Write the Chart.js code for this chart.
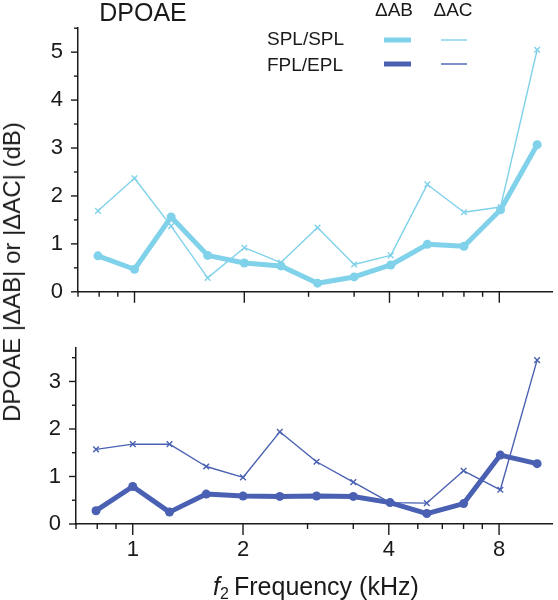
<!DOCTYPE html>
<html>
<head>
<meta charset="utf-8">
<script src="https://cdn.jsdelivr.net/npm/chart.js@4.4.0/dist/chart.umd.min.js"></script>
<style>
  html, body { margin: 0; padding: 0; background: #fff; }
  #wrap { position: relative; width: 558px; height: 600px; font-family: "Liberation Sans", Arial, sans-serif; }
  #topBox { position: absolute; left: 0; top: 0; width: 558px; height: 320px; }
  #botBox { position: absolute; left: 0; top: 320px; width: 558px; height: 280px; }
  #yTitle {
    position: absolute; left: 12px; top: 272px; white-space: nowrap;
    transform: translate(-50%, -50%) rotate(-90deg);
    font-size: 24px; color: #1a1a1a;
  }
</style>
</head>
<body>
<div id="wrap">
  <div id="topBox"><canvas id="topChart" width="558" height="320"></canvas></div>
  <div id="botBox"><canvas id="botChart" width="558" height="280"></canvas></div>
  <div id="yTitle">DPOAE |ΔAB| or |ΔAC| (dB)</div>
</div>
<script>
// f2 frequencies (kHz), 1/3-octave steps
const freqs = [0.794, 1, 1.26, 1.587, 2, 2.52, 3.175, 4, 5.04, 6.35, 8, 10.08, 12.7];

// top panel: SPL/SPL
const splAB = [0.75, 0.47, 1.56, 0.76, 0.60, 0.54, 0.18, 0.31, 0.56, 0.99, 0.95, 1.71, 3.07];
const splAC = [1.69, 2.37, 1.37, 0.29, 0.92, 0.61, 1.34, 0.57, 0.76, 2.24, 1.66, 1.77, 5.05];

// bottom panel: FPL/EPL
const fplAB = [0.28, 0.79, 0.25, 0.63, 0.59, 0.58, 0.59, 0.58, 0.45, 0.22, 0.43, 1.45, 1.27];
const fplAC = [1.57, 1.68, 1.68, 1.21, 0.98, 1.94, 1.31, 0.88, 0.45, 0.44, 1.12, 0.72, 3.45];

// x axis ticks as printed on the figure
const xTickValues = [1, 2, 5, 10];
const xTickLabels = ['1', '2', '4', '8'];
const xMinorTicks = [0.7, 0.8, 0.9, 3, 4, 6, 7, 8, 9];

const lightBlue = '#80d1ea';
const darkBlue = '#4a61b3';
const axisColor = '#1a1a1a';
const FONT = '"Liberation Sans", Arial, sans-serif';

function pts(arr) {
  return freqs.map((f, i) => ({ x: f, y: arr[i] }));
}

function thick(label, arr, color) {
  return {
    label, data: pts(arr), borderColor: color, backgroundColor: color,
    borderWidth: 5, pointRadius: 4.5, pointBorderWidth: 0, pointStyle: 'circle', tension: 0
  };
}
function thin(label, arr, color) {
  return {
    label, data: pts(arr), borderColor: color, backgroundColor: color,
    borderWidth: 1.4, pointRadius: 4, pointBorderWidth: 1.4, pointStyle: 'crossRot', tension: 0
  };
}

// hand-drawn tick marks (major + minor) placed through the scales
const tickMarks = {
  id: 'tickMarks',
  afterDraw(chart, args, opts) {
    const ctx = chart.ctx;
    const xs = chart.scales.x, ys = chart.scales.y;
    ctx.save();
    ctx.strokeStyle = axisColor;
    ctx.lineWidth = 1.4;
    const line = (x1, y1, x2, y2) => { ctx.beginPath(); ctx.moveTo(x1, y1); ctx.lineTo(x2, y2); ctx.stroke(); };
    const bot = chart.chartArea.bottom, left = chart.chartArea.left;
    xTickValues.forEach(v => { const p = xs.getPixelForValue(v); line(p, bot, p, bot + 11); });
    xMinorTicks.forEach(v => { const p = xs.getPixelForValue(v); line(p, bot, p, bot + 5); });
    for (let v = 0; v <= opts.yMax + 0.01; v += 0.5) {
      const p = ys.getPixelForValue(v);
      const len = Number.isInteger(v) ? 7 : 4;
      line(left - len, p, left, p);
    }
    ctx.restore();
  }
};

// text decorations drawn on the canvases
const decorations = {
  id: 'decorations',
  afterDraw(chart, args, opts) {
    const ctx = chart.ctx;
    ctx.save();
    ctx.fillStyle = axisColor;
    if (opts.panel === 'top') {
      ctx.font = '25px ' + FONT;
      ctx.textAlign = 'center';
      ctx.textBaseline = 'middle';
      ctx.fillText('DPOAE', 143, 14);
      ctx.font = '19px ' + FONT;
      ctx.fillText('ΔAB', 394, 11);
      ctx.fillText('ΔAC', 453, 11);
      ctx.textAlign = 'left';
      ctx.fillText('SPL/SPL', 267, 40);
      ctx.fillText('FPL/EPL', 267, 66);
      const seg = (y, w, c) => {
        ctx.strokeStyle = c; ctx.lineWidth = w;
        ctx.beginPath(); ctx.moveTo(w > 2 ? 384 : 441, y); ctx.lineTo(w > 2 ? 411 : 467, y); ctx.stroke();
      };
      seg(40, 5, lightBlue);
      seg(40, 1.4, lightBlue);
      seg(64, 5, darkBlue);
      seg(64, 1.4, darkBlue);
    } else {
      ctx.textBaseline = 'alphabetic';
      ctx.textAlign = 'left';
      ctx.font = 'italic 25px ' + FONT;
      ctx.fillText('f', 213, 275);
      ctx.font = '16px ' + FONT;
      ctx.fillText('2', 220, 279);
      ctx.font = '25px ' + FONT;
      ctx.fillText('Frequency (kHz)', 234, 275);
    }
    ctx.restore();
  }
};

function makeChart(id, panel, datasets, yMax, yWidth, xHeight, padTop) {
  return new Chart(document.getElementById(id), {
    type: 'line',
    data: { datasets },
    plugins: [tickMarks, decorations],
    options: {
      responsive: false,
      animation: false,
      layout: { padding: { left: 0, right: 2, top: padTop, bottom: 0 } },
      plugins: {
        legend: { display: false },
        tooltip: { enabled: false },
        tickMarks: { yMax: Math.floor(yMax) + 0.5 > yMax ? Math.floor(yMax) : Math.floor(yMax) + 0.5 },
        decorations: { panel }
      },
      elements: { line: { borderJoinStyle: 'round', borderCapStyle: 'round' } },
      scales: {
        x: {
          type: 'logarithmic',
          min: 0.7, max: 14,
          border: { display: true, color: axisColor, width: 1.5 },
          grid: { display: false, drawTicks: false },
          afterBuildTicks: s => { s.ticks = xTickValues.map(v => ({ value: v })); },
          afterFit: s => { s.height = xHeight; },
          ticks: {
            display: panel === 'bottom',
            autoSkip: false, maxRotation: 0, padding: 13,
            color: axisColor, font: { size: 22, family: FONT },
            callback: (v, i) => xTickLabels[i]
          }
        },
        y: {
          min: 0, max: yMax,
          border: { display: true, color: axisColor, width: 1.5 },
          grid: { display: false, drawTicks: false },
          afterBuildTicks: s => {
            const t = [];
            for (let v = 0; v <= yMax; v++) t.push({ value: v });
            s.ticks = t;
          },
          afterFit: s => { s.width = yWidth; },
          ticks: {
            padding: 15, color: axisColor, font: { size: 22, family: FONT },
            callback: v => String(v)
          }
        }
      }
    }
  });
}

makeChart('topChart', 'top', [thick('SPL/SPL ΔAB', splAB, lightBlue), thin('SPL/SPL ΔAC', splAC, lightBlue)], 5.5, 78, 12, 16);
makeChart('botChart', 'bottom', [thick('FPL/EPL ΔAB', fplAB, darkBlue), thin('FPL/EPL ΔAC', fplAC, darkBlue)], 3.7, 76, 76, 8);
</script>
</body>
</html>
